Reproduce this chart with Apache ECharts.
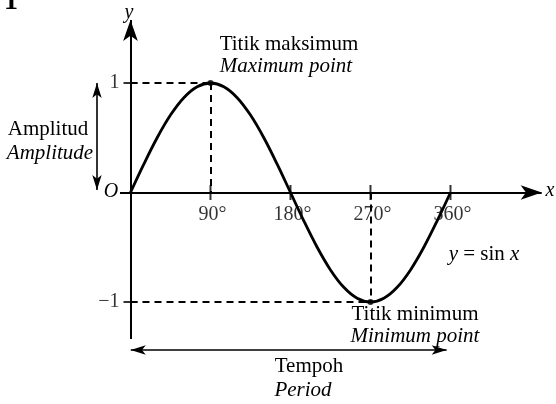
<!DOCTYPE html>
<html>
<head>
<meta charset="utf-8">
<script src="https://cdn.jsdelivr.net/npm/echarts@6/dist/echarts.min.js"></script>
<style>
  html, body { margin: 0; padding: 0; background: #fff; }
  #chart { width: 556px; height: 404px; }
</style>
</head>
<body>
<div id="chart"></div>
<script>
// y = sin x, sampled every 15 degrees
const angles = [0, 15, 30, 45, 60, 75, 90, 105, 120, 135, 150, 165, 180,
  195, 210, 225, 240, 255, 270, 285, 300, 315, 330, 345, 360]
const sinValues = [0, 0.259, 0.5, 0.707, 0.866, 0.966, 1, 0.966, 0.866, 0.707, 0.5, 0.259, 0,
  -0.259, -0.5, -0.707, -0.866, -0.966, -1, -0.966, -0.866, -0.707, -0.5, -0.259, 0]
const xTicks = [90, 180, 270, 360]
const xTickLabels = ["90°", "180°", "270°", "360°"]
const yTicks = [1, -1]
const yTickLabels = ["1", "−1"]
const maxPoint = [90, 1]
const minPoint = [270, -1]

// axis range so the picture keeps 90° = 80px and 1 unit = 109.5px
const X_MIN = -146.8, X_MAX = 478.7
const Y_MIN = -1.9315, Y_MAX = 1.758

const serif = "Liberation Serif"
const chart = echarts.init(document.getElementById("chart"))

const curve = angles.map((a, i) => [a, sinValues[i]])

const text = (x, y, str, opts) => ({
  type: "text",
  x: x,
  y: y,
  style: Object.assign({
    text: str,
    fontFamily: serif,
    fontSize: 20,
    fill: "#000",
    align: "center",
    verticalAlign: "middle"
  }, opts || {})
})

const options = {
  animation: false,
  grid: { left: 0, right: 0, top: 0, bottom: 0 },
  xAxis: { type: "value", min: X_MIN, max: X_MAX, show: false },
  yAxis: { type: "value", min: Y_MIN, max: Y_MAX, show: false },
  series: [
    {
      // axes with arrow heads
      type: "lines",
      coordinateSystem: "cartesian2d",
      symbol: ["none", "arrow"],
      symbolSize: [0, [11, 21]],
      lineStyle: { color: "#000", width: 2, opacity: 1 },
      data: [
        { coords: [[-11.8, 0], [462.6, 0]] },
        { coords: [[0, -1.338], [0, 1.575]] }
      ],
      z: 3
    },
    {
      // amplitude and period arrows
      type: "lines",
      coordinateSystem: "cartesian2d",
      symbol: ["arrow", "arrow"],
      symbolSize: [[7, 15], [7, 15]],
      lineStyle: { color: "#000", width: 1.6, opacity: 1 },
      data: [
        { coords: [[-37.7, 1.0], [-37.7, 0.023]] },
        { coords: [[0.3, -1.438], [355.7, -1.438]] }
      ]
    },
    {
      // guide lines to max / min
      type: "lines",
      coordinateSystem: "cartesian2d",
      lineStyle: { color: "#000", width: 2, type: [7, 5], opacity: 1 },
      data: [
        { coords: [[0, maxPoint[1]], maxPoint] },
        { coords: [maxPoint, [maxPoint[0], 0]] },
        { coords: [[0, minPoint[1]], minPoint] },
        { coords: [[minPoint[0], 0], minPoint] }
      ]
    },
    {
      type: "line",
      data: curve,
      smooth: 0.35,
      showSymbol: false,
      lineStyle: { color: "#000", width: 2.8 },
      z: 4
    },
    {
      type: "scatter",
      data: [maxPoint, minPoint],
      symbolSize: 6,
      itemStyle: { color: "#000" },
      z: 5
    },
    {
      // x ticks and labels
      type: "scatter",
      data: xTicks.map((v, i) => ({ value: [v, 0], name: xTickLabels[i] })),
      symbol: "rect",
      symbolSize: [2, 15],
      itemStyle: { color: "#000" },
      label: {
        show: true,
        position: "bottom",
        distance: 5,
        offset: [2, 0],
        formatter: p => p.name,
        fontFamily: serif,
        fontSize: 20,
        color: "#000"
      },
      z: 3
    },
    {
      // y ticks and labels
      type: "scatter",
      data: yTicks.map((v, i) => ({ value: [0, v], name: yTickLabels[i] })),
      symbol: "rect",
      symbolSize: [14, 2],
      itemStyle: { color: "#000" },
      label: {
        show: true,
        position: "left",
        distance: 4,
        formatter: p => p.name,
        fontFamily: serif,
        fontSize: 20,
        color: "#000"
      },
      z: 3
    }
  ],
  graphic: [
    text(11, 2, "1", { fontSize: 28, fontWeight: "bold" }),
    text(129, 13, "y", { fontStyle: "italic" }),
    text(550, 191, "x", { fontStyle: "italic" }),
    text(111, 192, "O", { fontStyle: "italic" }),
    text(289, 44, "Titik maksimum", { fontSize: 21 }),
    text(286, 66, "Maximum point", { fontSize: 21, fontStyle: "italic" }),
    text(48, 129, "Amplitud", { fontSize: 21 }),
    text(50, 153, "Amplitude", { fontSize: 21, fontStyle: "italic" }),
    text(484, 254, "{i|y} = sin {i|x}", {
      fontSize: 21,
      rich: { i: { fontFamily: serif, fontSize: 21, fontStyle: "italic" } }
    }),
    text(415, 314, "Titik minimum", { fontSize: 21 }),
    text(415, 336, "Minimum point", { fontSize: 21, fontStyle: "italic" }),
    text(309, 366, "Tempoh", { fontSize: 21 }),
    text(303, 390, "Period", { fontSize: 21, fontStyle: "italic" })
  ]
}
chart.setOption(options)
</script>
</body>
</html>
